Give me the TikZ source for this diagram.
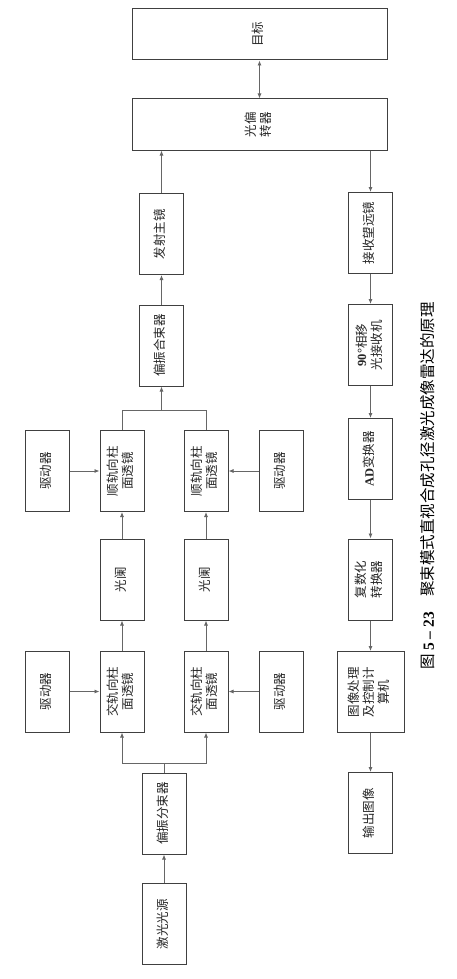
\documentclass[tikz,border=0pt]{standalone}
\usepackage{fontspec}
\setmainfont{Noto Sans CJK SC}
\newfontfamily\serifnum{Liberation Serif}
\usetikzlibrary{arrows.meta}
\newcommand\vtxt[1]{\rotatebox{90}{\begin{tabular}{@{}c@{}}#1\end{tabular}}}
\tikzset{
  blk/.style={draw=black!75, line width=1pt, inner sep=0pt, minimum width=44pt,
    minimum height=81pt, font=\fontsize{12.5}{15}\selectfont, fill=white, text=black!85},
  wideblk/.style={blk, minimum width=255pt, minimum height=51pt},
  conn/.style={draw=black!60, line width=0.8pt},
  arr/.style={conn, -{Latex[length=5pt,width=4pt]}},
  darr/.style={conn, {Latex[length=5pt,width=4pt]}-{Latex[length=5pt,width=4pt]}},
}
\begin{document}
\begin{tikzpicture}[x=1pt,y=-1pt]
\useasboundingbox[fill=white] (0,0) rectangle (456,979);

% transmit chain
\node[blk] (src) at (164,924) {\vtxt{激光光源}};
\node[blk] (pbs) at (164,813.5) {\vtxt{偏振分束器}};
\node[blk] (cl1) at (122,691.5) {\vtxt{交轨向柱\\面透镜}};
\node[blk] (cl2) at (206,691.5) {\vtxt{交轨向柱\\面透镜}};
\node[blk] (d1) at (47,691.5) {\vtxt{驱动器}};
\node[blk] (d2) at (281.5,691.5) {\vtxt{驱动器}};
\node[blk] (ap1) at (122,579.5) {\vtxt{光阑}};
\node[blk] (ap2) at (206,579.5) {\vtxt{光阑}};
\node[blk] (al1) at (122,471) {\vtxt{顺轨向柱\\面透镜}};
\node[blk] (al2) at (206,471) {\vtxt{顺轨向柱\\面透镜}};
\node[blk] (d3) at (47,471) {\vtxt{驱动器}};
\node[blk] (d4) at (281.5,471) {\vtxt{驱动器}};
\node[blk] (pbc) at (161.5,345.5) {\vtxt{偏振合束器}};
\node[blk] (tx) at (161.5,234) {\vtxt{发射主镜}};
\node[wideblk] (defl) at (259.5,124.5) {\vtxt{光偏\\转器}};
\node[wideblk] (tgt) at (259.5,34.5) {\vtxt{目标}};

% receive chain
\node[blk] (rx) at (370.5,233) {\vtxt{接收望远镜}};
\node[blk] (ph) at (370.5,345) {\vtxt{{\serifnum\bfseries 90°}相移\\光接收机}};
\node[blk] (ad) at (370.5,459) {\vtxt{{\serifnum\bfseries AD}变换器}};
\node[blk] (cx) at (370.5,579.5) {\vtxt{复数化\\转换器}};
\node[blk, minimum width=67pt] (ip) at (370.5,692) {\vtxt{图像处理\\及控制计\\算机}};
\node[blk] (out) at (370.5,813) {\vtxt{输出图像}};

% caption
\node[rotate=90, font=\fontsize{15.5}{18}\selectfont] (cap) at (428,486)
  {图 {\serifnum\bfseries 5 – 23}\quad 聚束模式直视合成孔径激光成像雷达的原理};

% connectors
\coordinate (sp) at (164,763);
\coordinate (mg) at (161.5,410);
\draw[arr] (src.north) -- (pbs.south);
\draw[conn] (pbs.north) -- (sp);
\draw[arr] (sp) -| (cl1.south);
\draw[arr] (sp) -| (cl2.south);
\draw[arr] (d1.east) -- (cl1.west);
\draw[arr] (d2.west) -- (cl2.east);
\draw[arr] (cl1.north) -- (ap1.south);
\draw[arr] (cl2.north) -- (ap2.south);
\draw[arr] (ap1.north) -- (al1.south);
\draw[arr] (ap2.north) -- (al2.south);
\draw[arr] (d3.east) -- (al1.west);
\draw[arr] (d4.west) -- (al2.east);
\draw[conn] (al1.north) |- (mg);
\draw[conn] (al2.north) |- (mg);
\draw[arr] (mg) -- (pbc.south);
\draw[arr] (pbc.north) -- (tx.south);
\draw[arr] (tx.north) -- (tx.north |- defl.south);
\draw[darr] (defl.north) -- (tgt.south);
\draw[arr] (defl.south -| rx.north) -- (rx.north);
\draw[arr] (rx.south) -- (ph.north);
\draw[arr] (ph.south) -- (ad.north);
\draw[arr] (ad.south) -- (cx.north);
\draw[arr] (cx.south) -- (ip.north);
\draw[arr] (ip.south) -- (out.north);
\end{tikzpicture}
\end{document}
